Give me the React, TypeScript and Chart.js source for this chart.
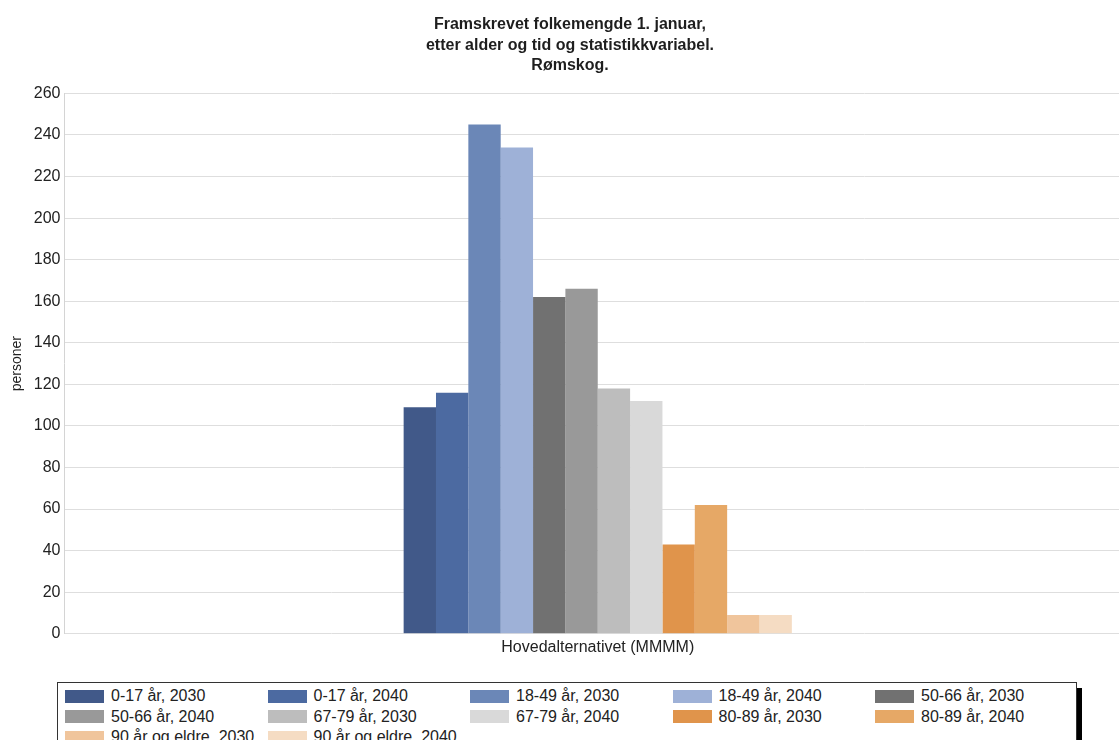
import React, { useEffect, useRef } from 'react';
import { Chart, registerables } from 'chart.js';

Chart.register(...registerables);

const FONT = '"Liberation Sans", Arial, Helvetica, sans-serif';

const titleLines = [
  'Framskrevet folkemengde 1. januar,',
  'etter alder og tid og statistikkvariabel.',
  'Rømskog.',
];
const categories = ['Hovedalternativet (MMMM)'];
const yAxisTitle = 'personer';
const seriesNames = [
  '0-17 år, 2030',
  '0-17 år, 2040',
  '18-49 år, 2030',
  '18-49 år, 2040',
  '50-66 år, 2030',
  '50-66 år, 2040',
  '67-79 år, 2030',
  '67-79 år, 2040',
  '80-89 år, 2030',
  '80-89 år, 2040',
  '90 år og eldre, 2030',
  '90 år og eldre, 2040',
];
const seriesValues = [109, 116, 245, 234, 162, 166, 118, 112, 43, 62, 9, 9];
const seriesColors = [
  '#415989',
  '#4c6aa1',
  '#6b87b7',
  '#9eb1d7',
  '#717171',
  '#999999',
  '#bdbdbd',
  '#d9d9d9',
  '#e0944b',
  '#e6a866',
  '#f0c59c',
  '#f5dcc3',
];
const yMin = 0;
const yMax = 260;
const yStep = 20;

export default function App() {
  const ref = useRef<HTMLCanvasElement>(null);

  useEffect(() => {
    if (!ref.current) return;
    const chart = new Chart(ref.current, {
      type: 'bar',
      data: {
        labels: categories,
        datasets: seriesNames.map((name, i) => ({
          label: name,
          data: [seriesValues[i]],
          backgroundColor: seriesColors[i],
          borderWidth: 0,
          barPercentage: 1,
          categoryPercentage: 0.364,
        })),
      },
      options: {
        animation: false,
        responsive: false,
        maintainAspectRatio: false,
        devicePixelRatio: 1,
        layout: { padding: { left: 9, right: 0, top: 14, bottom: 9 } },
        plugins: {
          legend: { display: false },
          tooltip: { enabled: false },
          title: {
            display: true,
            text: titleLines,
            color: '#1e1e1e',
            font: { family: FONT, size: 16, weight: 'bold', lineHeight: 1.3 },
            padding: { top: 0, bottom: 17 },
          },
        },
        scales: {
          x: {
            grid: { display: false, drawTicks: false },
            border: { display: false },
            ticks: { color: '#222', font: { family: FONT, size: 16 }, padding: 4 },
          },
          y: {
            min: yMin,
            max: yMax,
            ticks: { stepSize: yStep, color: '#222', font: { family: FONT, size: 16 }, padding: 4 },
            grid: { color: '#dedede', drawTicks: false },
            border: { color: '#d4d4d4' },
            title: {
              display: true,
              text: yAxisTitle,
              color: '#222',
              font: { family: FONT, size: 14 },
              padding: { top: 0, bottom: 4 },
            },
          },
        },
      },
    });
    return () => chart.destroy();
  }, []);

  return (
    <div
      style={{
        position: 'fixed',
        left: 0,
        top: 0,
        width: 1119,
        height: 740,
        overflow: 'hidden',
        background: '#fff',
      }}
    >
      <canvas ref={ref} width={1131} height={670} style={{ display: 'block' }} />
      <div
        style={{
          position: 'absolute',
          left: 57,
          top: 682,
          width: 1020,
          height: 90,
          borderLeft: '1px solid #333',
          borderTop: '1px solid #333',
          borderRight: '1px solid #333',
          boxShadow: '5px 6px 0 #000',
          background: '#fff',
          boxSizing: 'border-box',
          paddingLeft: 7,
          paddingTop: 3,
          display: 'grid',
          gridTemplateColumns: 'repeat(5, 202.5px)',
          gridAutoRows: '20.5px',
          fontFamily: FONT,
          fontSize: 16,
          color: '#222',
        }}
      >
        {seriesNames.map((name, i) => (
          <div key={name} style={{ display: 'flex', alignItems: 'center', whiteSpace: 'nowrap' }}>
            <span
              style={{
                display: 'inline-block',
                width: 39,
                height: 13,
                background: seriesColors[i],
                marginRight: 7,
                flex: 'none',
              }}
            />
            <span style={{ lineHeight: '20.5px' }}>{name}</span>
          </div>
        ))}
      </div>
    </div>
  );
}
